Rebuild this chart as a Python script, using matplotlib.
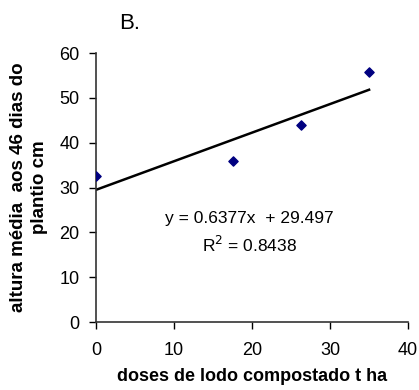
import matplotlib.pyplot as plt
import numpy as np

plt.rcParams['font.family'] = ['Liberation Sans', 'DejaVu Sans']

# doses de lodo (t/ha) e altura média (cm)
doses = [0, 17.5, 26.25, 35]
altura = [32.6, 35.9, 44.0, 55.8]

# regressão linear ajustada
slope = 0.6377
intercept = 29.497
r2 = 0.8438

fig = plt.figure(figsize=(4.19, 3.9), dpi=100)
ax = fig.add_axes([0.229, 0.174, 0.745, 0.69])

xs = np.array([0, 35])
ax.plot(xs, slope * xs + intercept, color='black', lw=1.8)
ax.scatter(doses, altura, marker='D', s=22, color='#000080', zorder=3)

ax.set_xlim(0, 40)
ax.set_ylim(0, 60)
ax.set_xticks(range(0, 41, 10))
ax.set_yticks(range(0, 61, 10))
for side in ['top', 'right']:
    ax.spines[side].set_visible(False)
for side in ['left', 'bottom']:
    ax.spines[side].set_linewidth(1.2)
    ax.spines[side].set_color('#333333')
ax.tick_params(direction='out', length=5, width=1, labelsize=13, pad=7)
ax.tick_params(axis='x', pad=9)

ax.text(19.7, 23.2, f'y = {slope}x  + {intercept}', ha='center', va='center', fontsize=12.5)
ax.text(19.7, 17.2, f'R$^2$ = {r2}', ha='center', va='center', fontsize=12.5)

ax.set_xlabel('doses de lodo compostado t ha', fontsize=13,
              fontweight='bold', labelpad=7)
ax.set_ylabel('altura média  aos 46 dias do\nplantio cm', fontsize=13.5,
              fontweight='bold', labelpad=8, linespacing=1.3)

fig.text(0.285, 0.94, 'B.', fontsize=16, ha='left', va='center')

fig.savefig('out.png', dpi=100)
